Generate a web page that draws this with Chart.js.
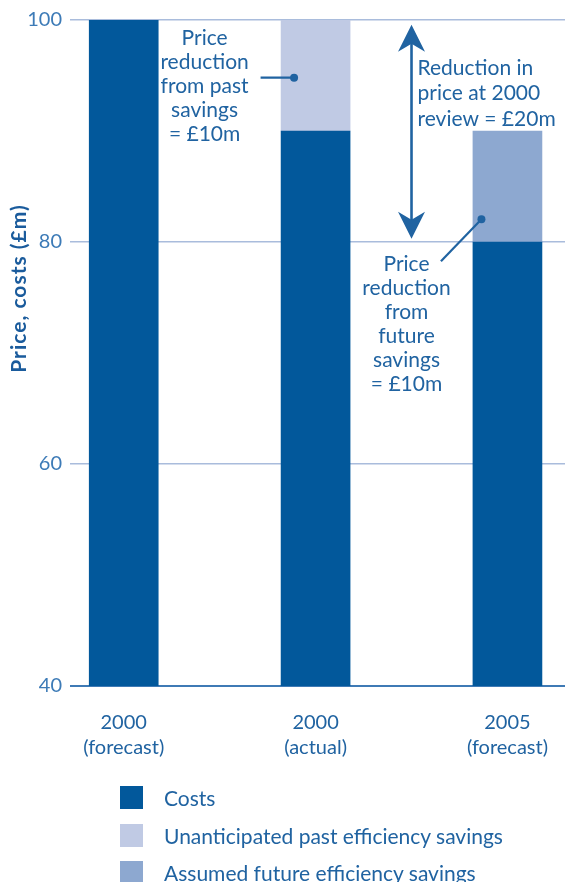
<!DOCTYPE html>
<html>
<head>
<meta charset="utf-8">
<script src="https://cdn.jsdelivr.net/npm/chart.js@4"></script>
<style>
  body { margin: 0; background: #fff; }
  #wrap { position: relative; width: 565px; height: 882px; }
  #legend { position: absolute; left: 120px; top: 779px; font: 21px Lato, sans-serif; color: #2063a1; }
  .item { display: flex; align-items: center; height: 37.5px; }
  .swatch { width: 23px; height: 23px; margin-right: 21px; }
</style>
</head>
<body>
<div id="wrap">
  <canvas id="priceChart" width="565" height="882"></canvas>
  <div id="legend"></div>
</div>
<script>
// categories and values (£m)
const categories = [["2000", "(forecast)"], ["2000", "(actual)"], ["2005", "(forecast)"]];
const costs = [100, 90, 80];
const pastSavings = [null, 10, null];
const futureSavings = [null, null, 10];
const yTicks = [40, 60, 80, 100];

const seriesNames = ["Costs", "Unanticipated past efficiency savings", "Assumed future efficiency savings"];
const seriesColors = ["#02589b", "#c0cae4", "#8da8d0"];

const textBlue = "#2063a1";
const font = "Lato, sans-serif";

const toPoints = (arr) => arr.map((v, i) => ({ x: i, y: v }));

// callouts, arrow and y title
const notes = {
  id: "notes",
  afterDatasetsDraw(chart) {
    const { ctx, scales: { x, y } } = chart;
    ctx.save();
    ctx.fillStyle = textBlue;
    ctx.strokeStyle = textBlue;
    ctx.font = "21px " + font;
    ctx.textBaseline = "alphabetic";

    const lines = (arr, px, py, step, align) => {
      ctx.textAlign = align;
      arr.forEach((t, i) => ctx.fillText(t, px, py + i * step));
    };
    const pointer = (x0, y0, x1, y1) => {
      ctx.lineWidth = 2.2;
      ctx.beginPath();
      ctx.moveTo(x0, y0);
      ctx.lineTo(x1, y1);
      ctx.stroke();
      ctx.beginPath();
      ctx.arc(x1, y1, 4, 0, Math.PI * 2);
      ctx.fill();
    };

    // past savings
    const b2 = x.getPixelForValue(1);
    lines(["Price", "reduction", "from past", "savings", "= £10m"], b2 - 111, y.getPixelForValue(100) + 25, 23.9, "center");
    pointer(b2 - 55, y.getPixelForValue(94.8), b2 - 21.5, y.getPixelForValue(94.8));

    // future savings
    const b3 = x.getPixelForValue(2);
    const ax = x.getPixelForValue(1.5);
    lines(["Price", "reduction", "from", "future", "savings", "= £10m"], ax - 5, y.getPixelForValue(80) + 29, 24, "center");
    pointer(b3 - 66.5, y.getPixelForValue(78.27), b3 - 26, y.getPixelForValue(82.04));

    // double arrow between 100 and 80
    const top = y.getPixelForValue(100) + 4.7;
    const bot = y.getPixelForValue(80) - 3.3;
    ctx.lineWidth = 2.6;
    ctx.beginPath();
    ctx.moveTo(ax, top + 15);
    ctx.lineTo(ax, bot - 15);
    ctx.stroke();
    const head = (tip, dir) => {
      ctx.beginPath();
      ctx.moveTo(ax, tip);
      ctx.lineTo(ax + 13.5, tip + dir * 27);
      ctx.lineTo(ax, tip + dir * 19);
      ctx.lineTo(ax - 13.5, tip + dir * 27);
      ctx.closePath();
      ctx.fill();
    };
    head(top, 1);
    head(bot, -1);
    lines(["Reduction in", "price at 2000", "review = £20m"], ax + 6, y.getPixelForValue(100) + 54.7, 25.5, "left");

    // y axis title
    ctx.translate(26, 288.5);
    ctx.rotate(-Math.PI / 2);
    ctx.font = "bold 21px " + font;
    ctx.letterSpacing = "1px";
    ctx.fillStyle = "#1a5b9c";
    ctx.textAlign = "center";
    ctx.fillText("Price, costs (£m)", 0, 0);
    ctx.restore();
  }
};

new Chart(document.getElementById("priceChart"), {
  type: "bar",
  data: {
    datasets: [
      { label: seriesNames[0], data: toPoints(costs), backgroundColor: seriesColors[0] },
      { label: seriesNames[1], data: toPoints(pastSavings), backgroundColor: seriesColors[1] },
      { label: seriesNames[2], data: toPoints(futureSavings), backgroundColor: seriesColors[2] },
    ],
  },
  options: {
    responsive: false,
    animation: false,
    datasets: { bar: { barThickness: 69, grouped: false } },
    layout: { padding: { top: 17, right: 0, left: 0, bottom: 0 } },
    scales: {
      x: {
        type: "linear",
        offset: false,
        min: -0.28,
        max: 2.3,
        afterBuildTicks: (s) => { s.ticks = categories.map((_, i) => ({ value: i })); },
        afterFit: (s) => { s.height = 196; },
        grid: { display: false },
        border: { display: false },
        ticks: {
          callback: (v) => categories[v],
          color: textBlue,
          font: { family: font, size: 20, lineHeight: 1.25 },
          padding: 16,
          maxRotation: 0,
        },
      },
      y: {
        stacked: true,
        min: 40,
        max: 100,
        afterBuildTicks: (s) => { s.ticks = yTicks.map((v) => ({ value: v })); },
        afterFit: (s) => { s.width = 70; },
        border: { display: false },
        grid: {
          drawTicks: false,
          color: (c) => (c.tick && c.tick.value === 40 ? "#3f7ab5" : "#a9bcdc"),
          lineWidth: (c) => (c.tick && c.tick.value === 40 ? 2 : 1.5),
        },
        ticks: { color: "#3d7bb7", font: { family: font, size: 20 }, padding: 8 },
      },
    },
    plugins: { legend: { display: false }, tooltip: { enabled: false } },
  },
  plugins: [notes],
});

// legend rows below the plot
const legend = document.getElementById("legend");
seriesNames.forEach((name, i) => {
  const row = document.createElement("div");
  row.className = "item";
  row.innerHTML = '<span class="swatch" style="background:' + seriesColors[i] + '"></span><span>' + name + "</span>";
  legend.appendChild(row);
});
</script>
</body>
</html>
